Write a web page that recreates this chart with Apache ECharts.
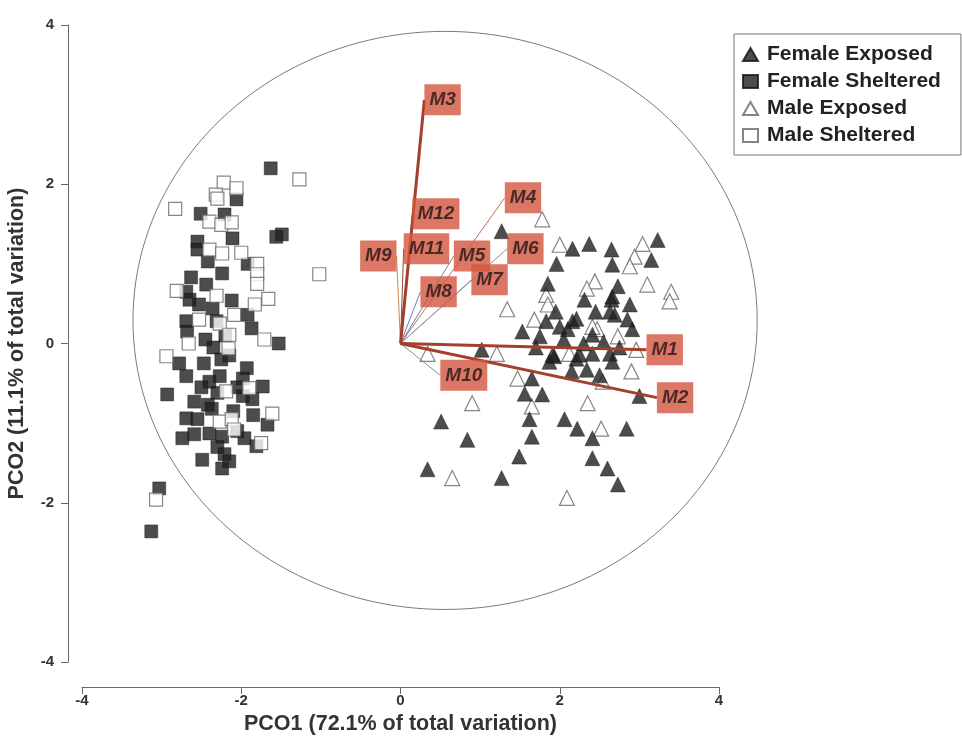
<!DOCTYPE html>
<html><head><meta charset="utf-8">
<script src="https://cdn.jsdelivr.net/npm/echarts@6/dist/echarts.min.js"></script>
<style>html,body{margin:0;padding:0;background:#fff}#c{width:962px;height:741px}</style>
</head><body><div id="c"></div>
<script>
// ---- data ----
const femaleExposed = [[1.27,1.41],[2.37,1.25],[2.16,1.19],[3.23,1.30],[2.65,1.18],[3.15,1.05],[1.96,1.00],[2.66,0.99],[1.85,0.75],[2.73,0.72],[2.31,0.55],[2.88,0.49],[2.65,0.55],[2.69,0.36],[1.83,0.28],[1.53,0.15],[2.00,0.21],[2.16,0.28],[2.10,0.18],[1.75,0.09],[2.41,0.11],[2.91,0.18],[1.02,-0.08],[2.66,0.59],[2.63,0.40],[2.21,0.31],[1.93,-0.16],[1.87,-0.23],[2.21,-0.19],[2.41,-0.13],[2.63,-0.13],[2.66,-0.23],[2.34,-0.33],[1.65,-0.44],[1.56,-0.63],[1.78,-0.64],[3.00,-0.66],[0.51,-0.98],[1.62,-0.95],[2.06,-0.95],[2.22,-1.07],[2.41,-1.19],[2.84,-1.07],[0.84,-1.21],[1.65,-1.17],[1.49,-1.42],[2.41,-1.44],[2.60,-1.57],[0.34,-1.58],[1.27,-1.69],[2.73,-1.77],[1.91,-0.14],[2.25,-0.14],[2.05,0.05],[2.30,0.00],[2.55,0.02],[1.70,-0.05],[2.15,-0.35],[2.50,-0.40],[2.75,-0.05],[2.85,0.30],[2.45,0.40],[1.95,0.40]];
const femaleSheltered = [[-1.63,2.20],[-2.06,1.81],[-2.51,1.63],[-2.21,1.62],[-1.49,1.37],[-1.56,1.34],[-2.55,1.28],[-2.11,1.32],[-2.55,1.18],[-2.42,1.03],[-1.92,1.00],[-2.24,0.88],[-2.63,0.83],[-2.44,0.74],[-2.69,0.65],[-2.65,0.55],[-2.53,0.49],[-2.36,0.44],[-2.12,0.54],[-1.92,0.36],[-1.87,0.19],[-2.69,0.28],[-2.68,0.15],[-2.31,0.28],[-1.53,0.00],[-2.78,-0.25],[-2.47,-0.25],[-2.25,-0.20],[-1.93,-0.31],[-2.69,-0.41],[-2.40,-0.48],[-2.27,-0.41],[-1.98,-0.44],[-1.73,-0.54],[-2.93,-0.64],[-2.59,-0.73],[-2.42,-0.77],[-1.98,-0.66],[-1.86,-0.70],[-2.69,-0.94],[-2.37,-0.82],[-1.67,-1.02],[-2.74,-1.19],[-2.59,-1.14],[-2.40,-1.13],[-2.24,-1.17],[-1.96,-1.19],[-1.81,-1.29],[-2.49,-1.46],[-2.21,-1.39],[-2.24,-1.57],[-2.15,-1.48],[-3.03,-1.82],[-3.13,-2.36],[-2.35,-0.05],[-2.15,-0.15],[-2.05,-0.55],[-2.30,-0.62],[-2.50,-0.55],[-2.10,-0.85],[-2.55,-0.95],[-2.05,-1.10],[-2.30,-1.30],[-1.85,-0.90],[-2.45,0.05],[-2.20,0.10]];
const maleExposed = [[1.78,1.56],[2.00,1.24],[3.04,1.25],[2.94,1.09],[2.88,0.97],[2.44,0.78],[2.34,0.69],[3.10,0.74],[3.40,0.65],[3.38,0.53],[1.83,0.61],[1.85,0.49],[1.34,0.43],[1.68,0.30],[2.47,0.18],[2.73,0.09],[1.21,-0.13],[2.41,0.21],[2.12,-0.13],[2.90,-0.35],[1.47,-0.44],[2.35,-0.75],[2.54,-0.48],[1.65,-0.79],[0.90,-0.75],[2.52,-1.07],[0.65,-1.69],[2.09,-1.94],[0.34,-0.13],[2.96,-0.08]];
const maleSheltered = [[-2.22,2.02],[-2.06,1.95],[-2.32,1.87],[-2.30,1.82],[-1.27,2.06],[-2.83,1.69],[-2.40,1.53],[-2.25,1.49],[-2.12,1.52],[-2.40,1.18],[-2.24,1.13],[-2.00,1.14],[-1.80,1.00],[-1.80,0.87],[-1.80,0.75],[-1.02,0.87],[-2.81,0.66],[-2.31,0.60],[-1.66,0.56],[-1.83,0.49],[-2.09,0.36],[-2.53,0.30],[-2.27,0.25],[-2.15,0.11],[-2.66,0.00],[-1.71,0.05],[-2.16,-0.06],[-2.94,-0.16],[-2.19,-0.60],[-1.61,-0.88],[-2.27,-0.98],[-2.12,-0.95],[-2.09,-1.08],[-1.75,-1.25],[-3.07,-1.96],[-1.90,-0.56]];

const vectorNames = ['M1','M2','M3','M4','M5','M6','M7','M8','M9','M10','M11','M12'];
const vectorX = [3.09, 3.22, 0.30, 1.31, 0.67, 1.34, 0.89, 0.25, -0.05, 0.50, 0.04, 0.15];
const vectorY = [-0.08, -0.68, 3.06, 1.83, 1.10, 1.19, 0.80, 0.65, 1.10, -0.40, 1.19, 1.63];

const circleCenter = [0.56, 0.29];
const circleRadius = [3.92, 3.63];

const xTicks = [-4, -2, 0, 2, 4];
const yTicks = [-4, -2, 0, 2, 4];

// ---- styles ----
const vectorWidth = [3,3,3,1,1,1,1,1,1,1,1,1];
const vectorColor = ['#a3402b','#a3402b','#a3402b','#c0704f','#6f7fa0','#909090','#9a9ab0','#6f80c0','#d08a50','#8a8aa0','#8a4a3a','#8a4a3a'];
const labelSide = ['right','right','right','right','right','right','right','right','left','right','right','right'];

const circlePts = [];
for (let i = 0; i <= 360; i += 2) {
  const a = i * Math.PI / 180;
  circlePts.push([circleCenter[0] + circleRadius[0]*Math.cos(a), circleCenter[1] + circleRadius[1]*Math.sin(a)]);
}

const FONT = '"Liberation Sans", Arial, sans-serif';
const series = [];
series.push({type:'custom', silent:true, clip:false, z:1, data:[0],
  renderItem:(params, api) => ({type:'polyline', shape:{points: circlePts.map(p => api.coord(p))},
    style:{stroke:'#7a7a7a', lineWidth:1, fill:null}})});

const filledStyle = {color:'#1f1f1f', borderColor:'#111', borderWidth:0.5};
const openStyle = {color:'#ffffff', borderColor:'#666', borderWidth:1.2};
series.push({type:'scatter', name:'Female Sheltered', symbol:'rect', symbolSize:13, data:femaleSheltered, itemStyle:filledStyle, z:3});
series.push({type:'scatter', name:'Male Sheltered', symbol:'rect', symbolSize:13, data:maleSheltered, itemStyle:openStyle, z:3});
series.push({type:'scatter', name:'Male Exposed', symbol:'triangle', symbolSize:15, data:maleExposed, itemStyle:openStyle, z:3});
series.push({type:'scatter', name:'Female Exposed', symbol:'triangle', symbolSize:15, data:femaleExposed, itemStyle:filledStyle, z:3});

vectorNames.forEach((n, i) => {
  series.push({type:'line', data:[[0,0],[vectorX[i], vectorY[i]]], showSymbol:false, silent:true,
    lineStyle:{color:vectorColor[i], width:vectorWidth[i]}, z: vectorWidth[i] > 1 ? 5 : 4});
});
series.push({type:'scatter', silent:true, symbolSize:0, z:10,
  data: vectorNames.map((n,i) => ({value:[vectorX[i], vectorY[i]], name:n,
    label:{position: labelSide[i]}})),
  label:{show:true, formatter:'{b}', distance:0, backgroundColor:'#d4553f', color:'#231515',
    fontFamily:FONT, fontWeight:'bold', fontStyle:'italic', fontSize:19, lineHeight:22, padding:[5,5,4,5]}
});

const chart = echarts.init(document.getElementById('c'));
chart.setOption({
  animation:false,
  backgroundColor:'#ffffff',
  grid:{left:82, right:243, top:25, bottom:79, outerBoundsMode:'none', containLabel:false},
  legend:{
    orient:'vertical', left:734, top:34, padding:[10,20,9,8], itemGap:6,
    borderColor:'#777', borderWidth:1, itemWidth:15, itemHeight:13,
    textStyle:{fontFamily:FONT, fontWeight:'bold', fontSize:21, lineHeight:21, color:'#222', padding:[0,0,0,4]},
    data:[{name:'Female Exposed', icon:'triangle'},{name:'Female Sheltered', icon:'rect'},
          {name:'Male Exposed', icon:'triangle'},{name:'Male Sheltered', icon:'rect'}]
  },
  xAxis:{type:'value', min:-4, max:4, interval:2, offset:25,
    name:'PCO1 (72.1% of total variation)', nameLocation:'middle', nameGap:25,
    nameTextStyle:{fontFamily:FONT, fontWeight:'bold', fontSize:21.5, color:'#333'},
    axisLine:{onZero:false, lineStyle:{color:'#666', width:1}},
    axisTick:{length:7, lineStyle:{color:'#666'}},
    axisLabel:{fontFamily:FONT, fontWeight:'bold', fontSize:15, color:'#333', margin:6,
      customValues: xTicks},
    splitLine:{show:false}},
  yAxis:{type:'value', min:-4, max:4, interval:2, offset:14,
    name:'PCO2 (11.1% of total variation)', nameLocation:'middle', nameGap:40,
    nameTextStyle:{fontFamily:FONT, fontWeight:'bold', fontSize:21.5, color:'#333'},
    axisLine:{onZero:false, lineStyle:{color:'#666', width:1}},
    axisTick:{length:7, lineStyle:{color:'#666'}},
    axisLabel:{fontFamily:FONT, fontWeight:'bold', fontSize:15, color:'#333', margin:14,
      customValues: yTicks},
    splitLine:{show:false}},
  series: series
});
</script></body></html>
